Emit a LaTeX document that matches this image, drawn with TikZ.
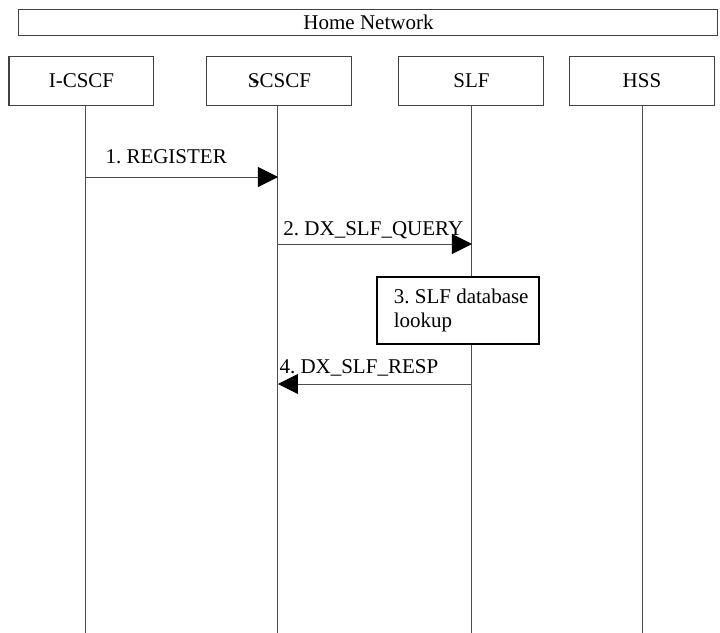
\documentclass[tikz,border=0pt]{standalone}
\usepackage{fontspec}
\setmainfont{Liberation Serif}
\usetikzlibrary{arrows.meta}

\begin{document}
\begin{tikzpicture}[
  x=0.5pt, y=-0.5pt,
  font=\fontsize{10.5}{12}\selectfont\frenchspacing,
  line width=0.5pt,
  dom/.style={draw=black!75, inner sep=0pt, minimum width=349.5pt, minimum height=13pt},
  entity/.style={draw=black!75, inner sep=0pt, minimum width=72.5pt, minimum height=24.5pt},
  proc/.style={draw=black, fill=white, line width=1pt, align=left, inner sep=0pt,
               minimum width=81pt, minimum height=33.5pt},
  life/.style={draw=black!70},
  ar/.style={draw=black!70, -{Triangle[length=10pt, width=10pt, color=black]}},
  lbl/.style={anchor=base west, inner sep=0pt}
]
\useasboundingbox (0,0) rectangle (720,633);

\node[dom] (home) at (368.5,22) {Home Network};

\node[entity] (icscf) at (81.5,80.5) {I-CSCF};
\node[entity] (scscf) at (279.5,80.5) {S\llap{-}CSCF};
\node[entity] (slf)   at (471.5,80.5) {SLF};
\node[entity] (hss)   at (642,80.5)   {HSS};

% lifelines
\coordinate (icscfL) at (86,105);
\coordinate (scscfL) at (278,105);
\coordinate (slfL)   at (472,105);
\coordinate (hssL)   at (643,105);
\coordinate (bot)    at (0,633);
\draw[life] (icscfL) -- (icscfL |- bot);
\draw[life] (scscfL) -- (scscfL |- bot);
\draw[life] (slfL) -- (slfL |- bot);
\draw[life] (hssL) -- (hssL |- bot);

% messages
\coordinate (m1) at (0,177);
\coordinate (m2) at (0,244);
\coordinate (m4) at (0,384);
\draw[ar] (icscfL |- m1) -- (scscfL |- m1);
\node[lbl] (msg1) at (105,163) {1. REGISTER};
\draw[ar] (scscfL |- m2) -- (slfL |- m2);
\node[lbl] (msg2) at (283,235) {2. DX\_SLF\_QUERY};

\node[proc] (lookup) at (458,310.5) {\hspace*{3.2pt}3. SLF database\\\hspace*{3.2pt}lookup};

\draw[ar] (slfL |- m4) -- (scscfL |- m4);
\node[lbl] (msg4) at (279,373) {4. DX\_SLF\_RESP};
\end{tikzpicture}
\end{document}
